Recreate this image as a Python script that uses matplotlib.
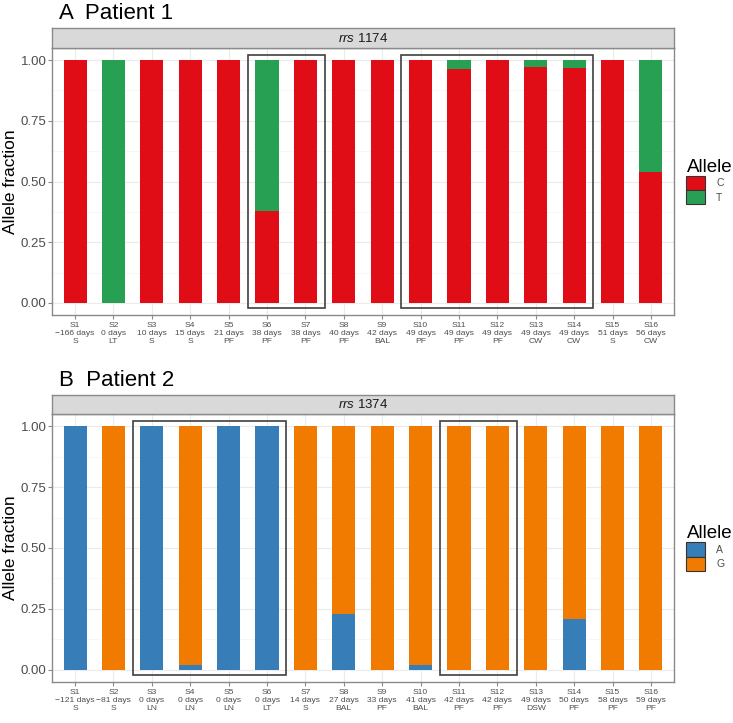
import matplotlib
matplotlib.use("Agg")
import matplotlib.pyplot as plt
import matplotlib.patches as patches
from matplotlib.ticker import MultipleLocator
import numpy as np

plt.rcParams['font.family'] = ['Liberation Sans', 'DejaVu Sans']
plt.rcParams['mathtext.fontset'] = 'custom'
plt.rcParams['mathtext.rm'] = 'Liberation Sans'
plt.rcParams['mathtext.it'] = 'Liberation Sans:italic'

# ---- data ----
samples = ["S%d" % i for i in range(1, 17)]

p1_days = ["\u2212166 days", "0 days", "10 days", "15 days", "21 days", "38 days", "38 days", "40 days",
           "42 days", "49 days", "49 days", "49 days", "49 days", "49 days", "51 days", "56 days"]
p1_site = ["S", "LT", "S", "S", "PF", "PF", "PF", "PF", "BAL", "PF", "PF", "PF", "CW", "CW", "S", "CW"]
p1_C = [1.0, 0.0, 1.0, 1.0, 1.0, 0.38, 1.0, 1.0, 1.0, 1.0, 0.963, 1.0, 0.97, 0.968, 1.0, 0.54]
p1_boxes = [(5, 6), (9, 13)]  # first/last sample index in each box

p2_days = ["\u2212121 days", "\u221281 days", "0 days", "0 days", "0 days", "0 days", "14 days", "27 days",
           "33 days", "41 days", "42 days", "42 days", "49 days", "50 days", "58 days", "59 days"]
p2_site = ["S", "S", "LN", "LN", "LN", "LT", "S", "BAL", "PF", "BAL", "PF", "PF", "DSW", "PF", "PF", "PF"]
p2_A = [1.0, 0.0, 1.0, 0.02, 1.0, 1.0, 0.0, 0.23, 0.0, 0.02, 0.0, 0.0, 0.0, 0.21, 0.0, 0.0]
p2_boxes = [(2, 5), (10, 11)]

W, H = 733, 723
fig = plt.figure(figsize=(W / 100, H / 100), dpi=100)

border = '#8a8a8a'
txt = '#4d4d4d'


def panel(top_px, bottom_px, strip_top_px, title, strip_label, frac, days, site,
          alleles, cols, boxes):
    left, right = 52, 674
    strip_bot = top_px
    ax = fig.add_axes([left / W, 1 - bottom_px / H, (right - left) / W, (bottom_px - top_px) / H])
    sx = fig.add_axes([left / W, 1 - strip_bot / H, (right - left) / W, (strip_bot - strip_top_px) / H])

    x = np.arange(len(samples))
    frac = np.array(frac)
    ax.bar(x, frac, width=0.6, color=cols[0], zorder=2, label=alleles[0])
    ax.bar(x, 1 - frac, bottom=frac, width=0.6, color=cols[1], zorder=2, label=alleles[1])

    for a, b in boxes:
        ax.add_patch(patches.Rectangle((a - 0.5, -0.02), b - a + 1, 1.04, fill=False,
                                       edgecolor='#404040', lw=1.2, zorder=3))

    ax.set_xlim(-0.6, len(samples) - 0.4)
    ax.set_ylim(-0.05, 1.05)
    ax.set_yticks([0, 0.25, 0.5, 0.75, 1.0])
    ax.set_yticklabels(["0.00", "0.25", "0.50", "0.75", "1.00"])
    ax.yaxis.set_minor_locator(MultipleLocator(0.125))
    ax.set_xticks(x)
    ax.set_xticklabels(["%s\n%s\n%s" % (s, d, t) for s, d, t in zip(samples, days, site)],
                       linespacing=1.25)
    ax.tick_params(axis='x', labelsize=6.1, colors=border, labelcolor=txt, length=3, width=0.8, pad=2)
    ax.tick_params(axis='y', labelsize=9.5, colors=border, labelcolor=txt, length=3, width=0.8, pad=1)
    ax.tick_params(which='minor', length=0)
    ax.grid(True, which='major', color='#ebebeb', lw=0.8, zorder=0)
    ax.grid(True, which='minor', axis='y', color='#f4f4f4', lw=0.5, zorder=0)
    ax.set_axisbelow(True)
    for sp in ax.spines.values():
        sp.set_color(border)
        sp.set_linewidth(1.0)
    ax.set_ylabel("Allele fraction", fontsize=12.5)
    ax.yaxis.set_label_coords(-34 / (right - left), 0.5)

    leg = ax.legend(title="Allele", loc='center left', bbox_to_anchor=(1.005, 0.5), frameon=False,
                    fontsize=7.5, title_fontsize=13.5, handlelength=1.75, handleheight=1.75,
                    labelspacing=0.0, handletextpad=1.1, borderaxespad=0.5)
    leg._legend_box.align = 'left'
    for h in leg.legend_handles:
        h.set_edgecolor('#333333')
        h.set_linewidth(0.8)
    for t in leg.get_texts():
        t.set_color(txt)

    sx.set_facecolor('#d9d9d9')
    sx.set_xticks([])
    sx.set_yticks([])
    for sp in sx.spines.values():
        sp.set_color(border)
        sp.set_linewidth(1.0)
    sx.text(0.5, 0.5, strip_label, transform=sx.transAxes, ha='center', va='center',
            fontsize=9.5, color='#1a1a1a')

    fig.text(59 / W, 1 - (strip_top_px - 9) / H, title, fontsize=16, ha='left', va='baseline')
    return ax


panel(48, 315, 28, "A  Patient 1", r"$\mathit{rrs}$ 1174", p1_C, p1_days, p1_site,
      ["C", "T"], ['#e00d17', '#28a054'], p1_boxes)
panel(414, 682, 395, "B  Patient 2", r"$\mathit{rrs}$ 1374", p2_A, p2_days, p2_site,
      ["A", "G"], ['#377db8', '#f07b00'], p2_boxes)

fig.savefig("out.png", dpi=100)
